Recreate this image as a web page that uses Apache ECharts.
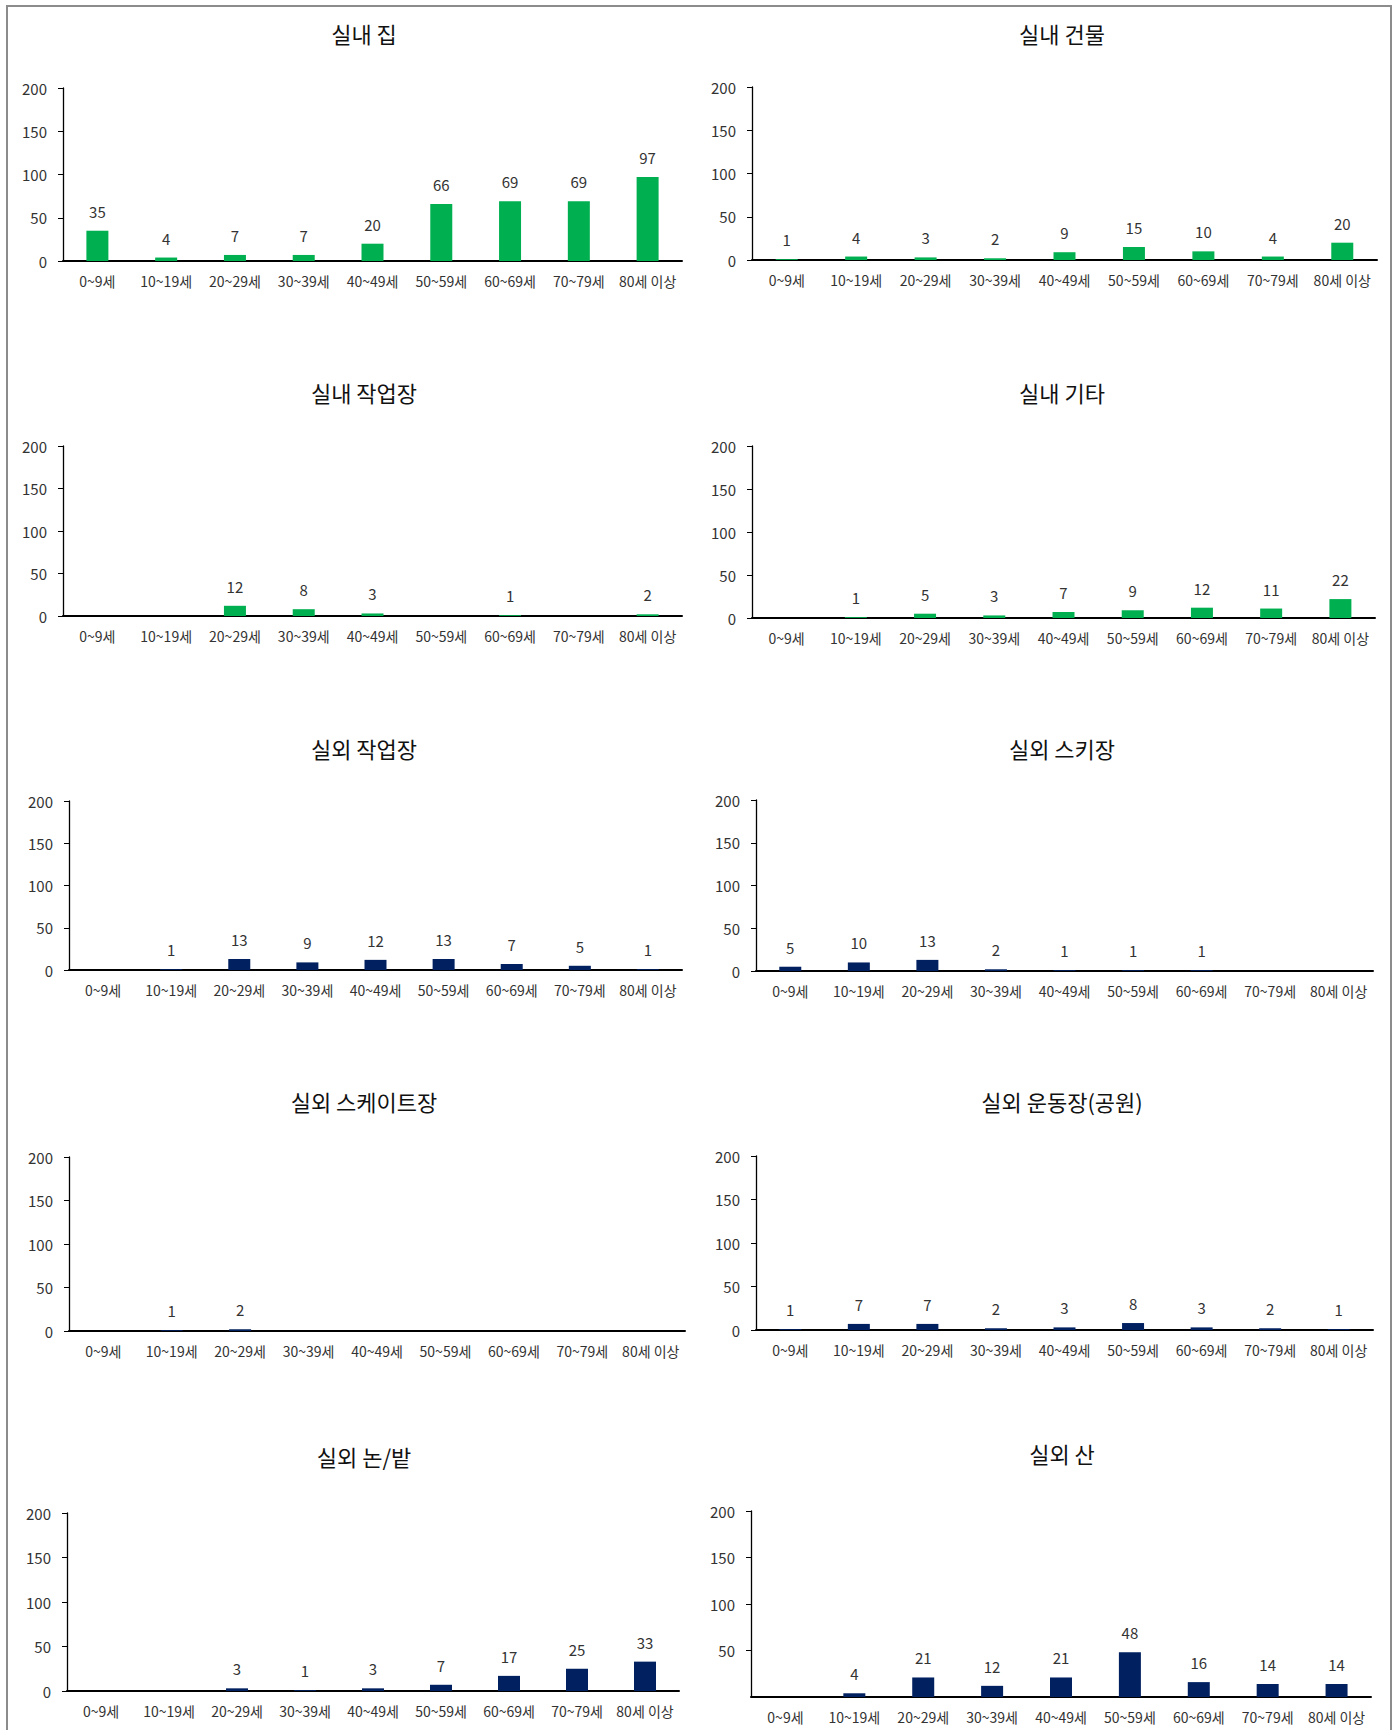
<!DOCTYPE html>
<html><head><meta charset="utf-8">
<script src="https://cdn.jsdelivr.net/npm/echarts@6/dist/echarts.min.js"></script>
<style>html,body{margin:0;padding:0;background:#fff}#c{width:1400px;height:1730px}</style>
</head><body><div id="c"></div>
<script>
const categories = ['0~9세','10~19세','20~29세','30~39세','40~49세','50~59세','60~69세','70~79세','80세 이상'];
const titles = ['실내 집','실내 건물','실내 작업장','실내 기타','실외 작업장','실외 스키장','실외 스케이트장','실외 운동장(공원)','실외 논/밭','실외 산'];
const indoorHome    = [35,4,7,7,20,66,69,69,97];
const indoorBuild   = [1,4,3,2,9,15,10,4,20];
const indoorWork    = [0,0,12,8,3,0,1,0,2];
const indoorEtc     = [0,1,5,3,7,9,12,11,22];
const outdoorWork   = [0,1,13,9,12,13,7,5,1];
const outdoorSki    = [5,10,13,2,1,1,1,0,0];
const outdoorSkate  = [0,1,2,0,0,0,0,0,0];
const outdoorPark   = [1,7,7,2,3,8,3,2,1];
const outdoorField  = [0,0,3,1,3,7,17,25,33];
const outdoorMount  = [0,4,21,12,21,48,16,14,14];
const yTicks = [0,50,100,150,200];

const seriesData = [indoorHome,indoorBuild,indoorWork,indoorEtc,outdoorWork,outdoorSki,outdoorSkate,outdoorPark,outdoorField,outdoorMount];
const GREEN = '#00B050', NAVY = '#002060';
// layout: [left, right, top, bottom] in px, title center [x,y]
const boxes = [
  [63,682,88,261],[752,1377,87,260],
  [63,682,446,616],[752,1375,446,618],
  [69,682,801,970],[756,1373,800,971],
  [69,685,1157,1331],[756,1373,1156,1330],
  [67,679,1513,1691],[751,1371,1511,1697]
];
const titlePos = [[364,33],[1062,33],[364,392],[1062,392],[364,748],[1062,748],[364,1101],[1062,1101],[364,1456],[1062,1453]];
const FONT = '"Noto Sans CJK KR", "Noto Sans", sans-serif';

const chart = echarts.init(document.getElementById('c'), null, {renderer:'svg', width:1400, height:1730});
const grid=[], xAxis=[], yAxis=[], series=[], graphic=[];
graphic.push({type:'rect', shape:{x:7,y:6,width:1384,height:1740}, style:{fill:'none', stroke:'#8c8c8c', lineWidth:2}, silent:true});
boxes.forEach((b,i)=>{
  grid.push({left:b[0], width:b[1]-b[0], top:b[2], height:b[3]-b[2], containLabel:false});
  xAxis.push({type:'category', gridIndex:i, data:categories,
    axisLine:{lineStyle:{color:'#000', width:2}}, axisTick:{show:false},
    axisLabel:{color:'#333', fontSize:14, fontFamily:FONT, margin:13, interval:0}});
  yAxis.push({type:'value', gridIndex:i, min:yTicks[0], max:yTicks[yTicks.length-1], interval:yTicks[1]-yTicks[0],
    splitLine:{show:false},
    axisLine:{show:true, lineStyle:{color:'#000', width:1.3}},
    axisTick:{show:true, length:5, lineStyle:{color:'#000'}},
    axisLabel:{color:'#333', fontSize:15, fontFamily:FONT, margin:16, showMinLabel: i!==9}});
  series.push({type:'bar', xAxisIndex:i, yAxisIndex:i, data:seriesData[i], barWidth:22,
    itemStyle:{color: i<4?GREEN:NAVY},
    label:{show:true, position:'top', distance:12, color:'#333', fontSize:15, fontFamily:FONT,
      formatter:p=>p.value===0?'':String(p.value)}});
  graphic.push({type:'text', x:titlePos[i][0], y:titlePos[i][1], silent:true,
    style:{text:titles[i], align:'center', verticalAlign:'middle', fill:'#111', font:'22px '+FONT}});
});
chart.setOption({animation:false, grid, xAxis, yAxis, series, graphic});
</script></body></html>
